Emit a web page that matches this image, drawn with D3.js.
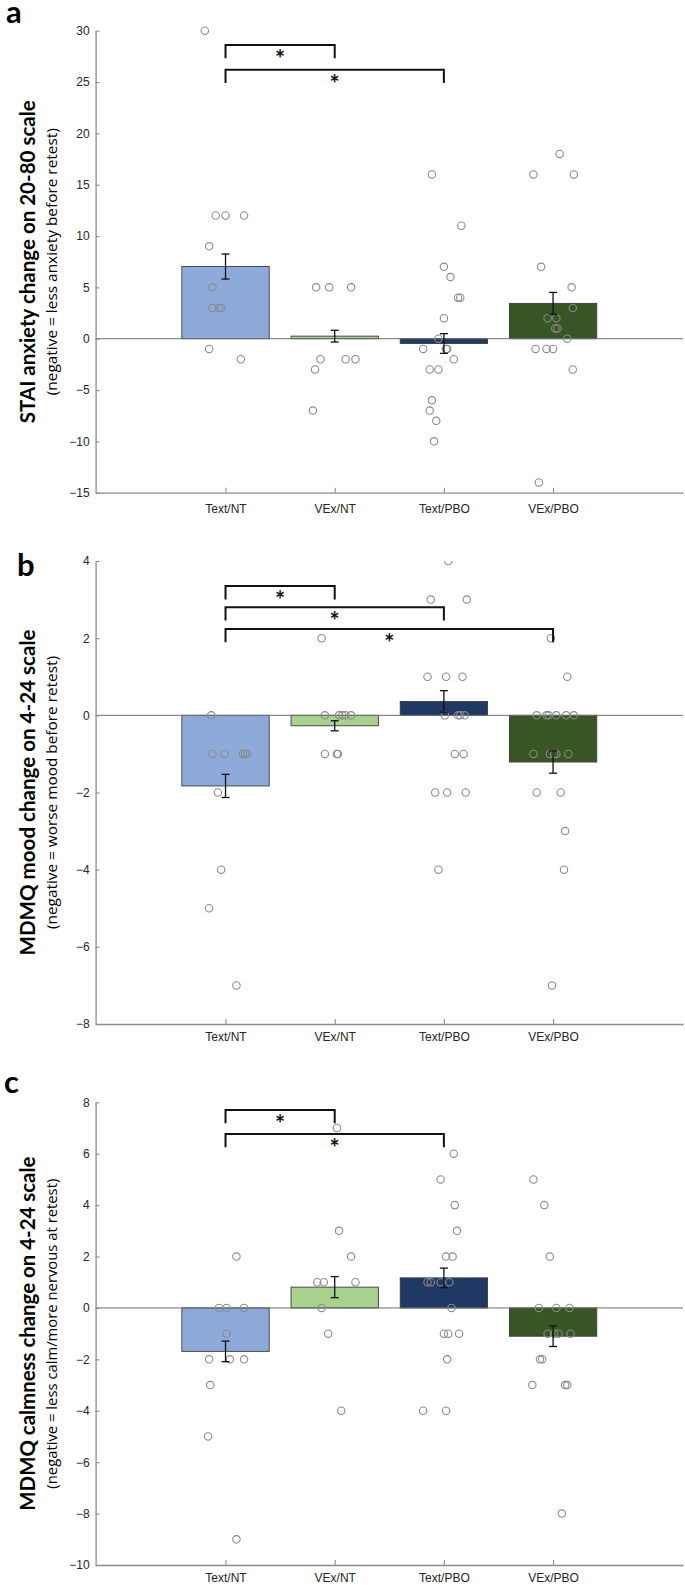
<!DOCTYPE html>
<html><head><meta charset="utf-8">
<script src="https://cdn.jsdelivr.net/npm/d3@7"></script>
<style>body{margin:0;background:#fff}</style>
</head><body>
<script>
// ---------------- DATA ----------------
const categories = ["Text/NT", "VEx/NT", "Text/PBO", "VEx/PBO"];

// Panel a: STAI anxiety change
const staiTicks = [-15, -10, -5, 0, 5, 10, 15, 20, 25, 30];
const staiMeans = [7.03, 0.25, -0.47, 3.44];
const staiSE = [1.22, 0.57, 0.96, 1.07];
const staiPoints = [
  [30, 12, 12, 12, 9, 5, 3, 3, 3, -1, -2],
  [5, 5, 5, -2, -2, -2, -3, -7],
  [16, 11, 7, 6, 4, 4, 2, 0, -1, -1, -1, -2, -3, -3, -6, -7, -8, -10],
  [18, 16, 16, 7, 5, 3, 2, 2, 1, 1, 0, -1, -1, -1, -3, -14]
];
const staiJitter = [
  [-0.19, -0.09, 0.00, 0.17, -0.15, -0.12, -0.12, -0.06, -0.04, -0.15, 0.14],
  [-0.17, -0.05, 0.15, -0.13, 0.10, 0.19, -0.18, -0.20],
  [-0.11, 0.16, 0.00, 0.06, 0.13, 0.15, 0.00, -0.05, -0.19, 0.02, 0.03, 0.09, -0.13, -0.05, -0.11, -0.13, -0.07, -0.09],
  [0.06, -0.18, 0.19, -0.11, 0.17, 0.18, -0.05, 0.03, 0.02, 0.04, 0.13, -0.16, -0.06, 0.00, 0.18, -0.13]
];
const staiBrackets = [[0, 1, 28.6], [0, 2, 26.2]];

// Panel b: MDMQ mood change
const moodTicks = [-8, -6, -4, -2, 0, 2, 4];
const moodMeans = [-1.83, -0.27, 0.36, -1.21];
const moodSE = [0.30, 0.13, 0.28, 0.29];
const moodPoints = [
  [0, -1, -1, -1, -1, -1, -2, -4, -5, -7],
  [2, 0, 0, 0, 0, 0, -1, -1, -1],
  [4, 3, 3, 1, 1, 1, 0, 0, 0, 0, -1, -1, -2, -2, -2, -4],
  [2, 1, 0, 0, 0, 0, 0, 0, -1, -1, -1, -1, -1, -2, -2, -3, -4, -7]
];
const moodJitter = [
  [-0.13, -0.12, -0.01, 0.16, 0.18, 0.20, -0.07, -0.04, -0.15, 0.10],
  [-0.12, -0.09, 0.04, 0.07, 0.10, 0.15, -0.09, 0.02, 0.03],
  [0.04, -0.12, 0.21, -0.15, 0.02, 0.17, 0.01, 0.13, 0.15, 0.19, 0.10, 0.18, -0.08, 0.03, 0.20, -0.05],
  [-0.02, 0.13, -0.15, -0.06, -0.04, 0.03, 0.12, 0.19, -0.18, -0.03, 0.01, 0.03, 0.14, -0.15, 0.07, 0.11, 0.10, -0.01]
];
const moodBrackets = [[0, 1, 3.35], [0, 2, 2.8], [0, 3, 2.24]];

// Panel c: MDMQ calmness change
const calmTicks = [-10, -8, -6, -4, -2, 0, 2, 4, 6, 8];
const calmMeans = [-1.69, 0.81, 1.17, -1.10];
const calmSE = [0.40, 0.41, 0.38, 0.40];
const calmPoints = [
  [2, 0, 0, 0, -1, -2, -2, -2, -3, -5, -9],
  [7, 3, 2, 1, 1, 1, 0, -1, -4],
  [6, 5, 4, 3, 2, 2, 1, 1, 1, 1, 0, -1, -1, -1, -2, -4, -4],
  [5, 4, 2, 0, 0, 0, -1, -1, -1, -1, -2, -2, -3, -3, -3, -8]
];
const calmJitter = [
  [0.10, -0.06, 0.01, 0.17, 0.01, -0.15, 0.04, 0.17, -0.14, -0.16, 0.10],
  [0.02, 0.04, 0.15, -0.16, -0.10, 0.19, -0.12, -0.06, 0.06],
  [0.09, -0.03, 0.10, 0.12, 0.02, 0.08, -0.15, -0.12, -0.03, 0.05, 0.07, 0.00, 0.04, 0.14, 0.03, -0.19, 0.02],
  [-0.18, -0.08, -0.03, -0.13, 0.03, 0.15, -0.05, 0.01, 0.05, 0.16, -0.12, -0.10, -0.19, 0.11, 0.13, 0.08]
];
const calmBrackets = [[0, 1, 7.70], [0, 2, 6.77]];

// ---------------- LAYOUT / STYLE ----------------
const W = 685, H = 1585;
const X0 = 95.6, X1 = 683;
const barColors = ["#8eaadb", "#a9d18e", "#203864", "#375623"];
const starFont = "bold 24px Lato";

const panels = [
  { letter: "a", lx: 6, ly: 23, top: 30.7, height: 462, domain: [-15, 30], ticks: staiTicks,
    means: staiMeans, se: staiSE, points: staiPoints, jitter: staiJitter, brackets: staiBrackets,
    title: "STAI anxiety change on 20-80 scale", titleLen: 323,
    sub: "(negative = less anxiety before retest)", subLen: 267, clip: false, xPad: 12 },
  { letter: "b", lx: 17, ly: 576, top: 561, height: 463, domain: [-8, 4], ticks: moodTicks,
    means: moodMeans, se: moodSE, points: moodPoints, jitter: moodJitter, brackets: moodBrackets,
    title: "MDMQ mood change on 4-24 scale", titleLen: 326,
    sub: "(negative = worse mood before retest)", subLen: 273, clip: true, xPad: 8 },
  { letter: "c", lx: 4, ly: 1093, top: 1102.3, height: 462.7, domain: [-10, 8], ticks: calmTicks,
    means: calmMeans, se: calmSE, points: calmPoints, jitter: calmJitter, brackets: calmBrackets,
    title: "MDMQ calmness change on 4-24 scale", titleLen: 354,
    sub: "(negative = less calm/more nervous at retest)", subLen: 310, clip: true, xPad: 8 }
];

// glyph metrics of the asterisk (to centre it below the bracket line)
const ctx = document.createElement("canvas").getContext("2d");
ctx.font = starFont;
const sm = ctx.measureText("*");
const starMid = (sm.actualBoundingBoxAscent - sm.actualBoundingBoxDescent) / 2;

const svg = d3.select("body").append("svg").attr("width", W).attr("height", H)
  .style("display", "block");

const x = d3.scalePoint().domain(categories).range([X0, X1]).padding(1.19);
const step = x.step();
const barW = step * 0.8;

panels.forEach((p, pi) => {
  const g = svg.append("g");
  const y = d3.scaleLinear().domain(p.domain).range([p.top + p.height, p.top]);

  const clipId = "clip" + pi;
  svg.append("clipPath").attr("id", clipId).append("rect")
    .attr("x", X0).attr("y", p.top).attr("width", X1 - X0).attr("height", p.height);

  // bars
  g.selectAll("rect.bar").data(p.means).join("rect").attr("class", "bar")
    .attr("x", (d, i) => x(categories[i]) - barW / 2)
    .attr("y", d => Math.min(y(d), y(0)))
    .attr("width", barW)
    .attr("height", d => Math.abs(y(d) - y(0)))
    .attr("fill", (d, i) => barColors[i])
    .attr("stroke", "#3c3c3c").attr("stroke-width", 0.9);

  // zero line
  g.append("line").attr("x1", X0).attr("x2", X1).attr("y1", y(0)).attr("y2", y(0))
    .attr("stroke", "#6e6e6e").attr("stroke-width", 1);

  // axes
  const ya = d3.axisLeft(y).tickValues(p.ticks).tickSize(-4).tickSizeOuter(0).tickPadding(6)
    .tickFormat(d3.format("d"));
  const yg = g.append("g").attr("transform", `translate(${X0},0)`).call(ya);
  const xa = d3.axisBottom(x).tickSize(-5).tickSizeOuter(0).tickPadding(p.xPad);
  const xg = g.append("g").attr("transform", `translate(0,${p.top + p.height})`).call(xa);
  [yg, xg].forEach(a => {
    a.select(".domain").attr("stroke", "#8c8c8c").attr("stroke-width", 1.3);
    a.selectAll(".tick line").attr("stroke", "#8c8c8c").attr("stroke-width", 1.1);
    a.selectAll(".tick text").attr("fill", "#262626")
      .style("font-family", "'Liberation Sans', Arial, sans-serif").style("font-size", "12px");
  });

  // points
  const pts = p.points.flatMap((arr, i) => arr.map((v, j) => ({ i, v, jit: p.jitter[i][j] })));
  const pg = g.append("g");
  if (p.clip) pg.attr("clip-path", `url(#${clipId})`);
  pg.selectAll("circle").data(pts).join("circle")
    .attr("cx", d => x(categories[d.i]) + d.jit * step)
    .attr("cy", d => y(d.v))
    .attr("r", 3.7)
    .attr("fill", "none").attr("stroke", "#8a8a8a").attr("stroke-width", 1.1);

  // error bars
  const eg = g.append("g").attr("stroke", "#111").attr("stroke-width", 1.3);
  p.means.forEach((m, i) => {
    const cx = x(categories[i]);
    const y1 = y(m + p.se[i]), y2 = y(m - p.se[i]);
    eg.append("line").attr("x1", cx).attr("x2", cx).attr("y1", y1).attr("y2", y2);
    eg.append("line").attr("x1", cx - 4).attr("x2", cx + 4).attr("y1", y1).attr("y2", y1);
    eg.append("line").attr("x1", cx - 4).attr("x2", cx + 4).attr("y1", y2).attr("y2", y2);
  });

  // significance brackets
  p.brackets.forEach(([a, b, lev]) => {
    const xa1 = x(categories[a]), xb1 = x(categories[b]), yl = y(lev);
    g.append("path")
      .attr("d", `M${xa1},${yl + 13.3}V${yl}H${xb1}V${yl + 13.3}`)
      .attr("fill", "none").attr("stroke", "#111").attr("stroke-width", 2);
    g.append("text").text("*")
      .attr("x", (xa1 + xb1) / 2).attr("y", yl + 8.5 + starMid)
      .attr("text-anchor", "middle")
      .style("font", starFont).attr("fill", "#111");
  });

  // y titles
  const cy = p.top + p.height / 2;
  g.append("text").text(p.title)
    .attr("transform", `translate(35,${cy}) rotate(-90)`)
    .attr("text-anchor", "middle")
    .attr("textLength", p.titleLen).attr("lengthAdjust", "spacingAndGlyphs")
    .style("font-family", "Lato, 'Open Sans', sans-serif").style("font-weight", "bold")
    .style("font-size", "21px").attr("fill", "#000");
  g.append("text").text(p.sub)
    .attr("transform", `translate(57,${cy}) rotate(-90)`)
    .attr("text-anchor", "middle")
    .attr("textLength", p.subLen).attr("lengthAdjust", "spacingAndGlyphs")
    .style("font-family", "'Open Sans', sans-serif")
    .style("font-size", "14px").attr("fill", "#000");

  // panel letter
  g.append("text").text(p.letter).attr("x", p.lx).attr("y", p.ly)
    .style("font-family", "Lato, 'Open Sans', sans-serif").style("font-weight", "bold")
    .style("font-size", "31px").attr("fill", "#000");
});
</script>
</body></html>
